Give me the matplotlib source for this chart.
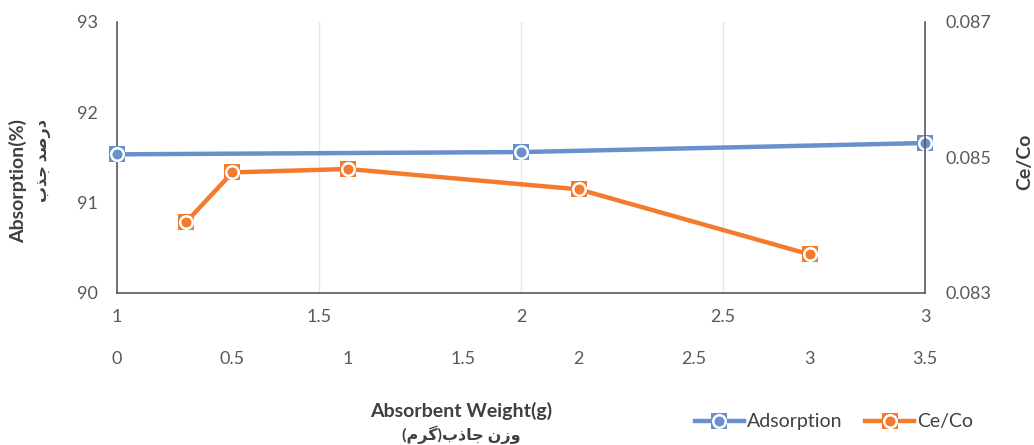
import matplotlib.pyplot as plt
from matplotlib.lines import Line2D
from matplotlib.legend_handler import HandlerTuple

plt.rcParams['font.family'] = ['Lato', 'DejaVu Sans']

# Adsorption (%) against primary weight axis
ads_x = [1, 2, 3]
ads_y = [91.535, 91.56, 91.66]

# Ce/Co against secondary weight axis
ce_x = [0.3, 0.5, 1, 2, 3]
ce_y = [0.08405, 0.08478, 0.08483, 0.08453, 0.08357]

x1_ticks = [1, 1.5, 2, 2.5, 3]
x2_ticks = [0, 0.5, 1, 1.5, 2, 2.5, 3, 3.5]
y1_ticks = [90, 91, 92, 93]
y2_ticks = [0.083, 0.085, 0.087]

blue = '#6890CB'
orange = '#F47B2B'
grey = '#595959'
dark = '#404040'

# Persian text written in visual order with Arabic presentation forms
fa_ylabel = '\uFE8F\uFEAC\uFE9F \uFEAA\uFEBB\uFEAD\uFEA9'
fa_xlabel = '(\uFEE1\uFEAE\uFB94)\uFE8F\uFEAB\uFE8E\uFE9F \uFEE5\uFEAF\uFEED'

fig = plt.figure(figsize=(10.34, 4.45), dpi=100)
rect = [0.1132, 0.3416, 0.7814, 0.6090]
ax = fig.add_axes(rect)
ax2 = fig.add_axes(rect, facecolor='none')

ax.set_xlim(1, 3)
ax.set_ylim(90, 93)
ax.set_xticks(x1_ticks)
ax.set_xticklabels(['1', '1.5', '2', '2.5', '3'])
ax.set_yticks(y1_ticks)
ax.grid(axis='x', color='#E6E6E6', lw=1)
ax.set_axisbelow(True)
for s in ['top', 'right']:
    ax.spines[s].set_visible(False)
for s in ['left', 'bottom']:
    ax.spines[s].set_color(grey)
    ax.spines[s].set_linewidth(1.2)
ax.tick_params(length=0, labelsize=13, colors=grey)
ax.tick_params(axis='x', pad=11.5)
ax.tick_params(axis='y', pad=14)

ax2.set_xlim(0, 3.5)
ax2.set_ylim(0.083, 0.087)
ax2.set_xticks(x2_ticks)
ax2.set_xticklabels(['0', '0.5', '1', '1.5', '2', '2.5', '3', '3.5'])
ax2.set_yticks(y2_ticks)
ax2.set_yticklabels(['0.083', '0.085', '0.087'])
ax2.yaxis.tick_right()
for s in ['top', 'left', 'bottom']:
    ax2.spines[s].set_visible(False)
ax2.spines['right'].set_color(grey)
ax2.spines['right'].set_linewidth(1.2)
ax2.tick_params(length=0, labelsize=13, colors=grey)
ax2.tick_params(axis='x', pad=42)
ax2.tick_params(axis='y', pad=15)

mk_sq = dict(marker='s', markersize=12, markeredgewidth=0)
mk_ci = dict(marker='o', markersize=9, markeredgecolor='white', markeredgewidth=1.8)

ax.plot(ads_x, ads_y, color=blue, lw=3.2, clip_on=False, zorder=3, **mk_sq)
ax.plot(ads_x, ads_y, ls='none', color=blue, clip_on=False, zorder=4, **mk_ci)
ax2.plot(ce_x, ce_y, color=orange, lw=3.2, clip_on=False, zorder=3, **mk_sq)
ax2.plot(ce_x, ce_y, ls='none', color=orange, clip_on=False, zorder=4, **mk_ci)

fig.text(0.446, 0.076, 'Absorbent Weight(g)', ha='center', va='center',
         fontsize=14, fontweight='bold', color=dark)
fig.text(0.446, 0.024, fa_xlabel, ha='center', va='center',
         fontsize=11.5, fontweight='bold', color=dark)
fig.text(0.017, 0.593, 'Absorption(%)', rotation=90, ha='center', va='center',
         fontsize=14, fontweight='bold', color=dark)
fig.text(0.043, 0.640, fa_ylabel, rotation=90, ha='center', va='center',
         fontsize=11.5, fontweight='bold', color=dark)
fig.text(0.991, 0.636, 'Ce/Co', rotation=90, ha='center', va='center',
         fontsize=14, fontweight='bold', color=dark)

handles = [
    (Line2D([], [], color=blue, lw=3.2, **mk_sq), Line2D([], [], ls='none', color=blue, **mk_ci)),
    (Line2D([], [], color=orange, lw=3.2, **mk_sq), Line2D([], [], ls='none', color=orange, **mk_ci)),
]
fig.legend(handles, ['Adsorption', 'Ce/Co'], handler_map={tuple: HandlerTuple(ndivide=1)},
           loc='center', bbox_to_anchor=(0.8066, 0.052), ncol=2, frameon=False,
           fontsize=14, handlelength=2.5, handletextpad=0.15, columnspacing=1.2,
           labelcolor=dark)

fig.savefig('out.png', dpi=100)
